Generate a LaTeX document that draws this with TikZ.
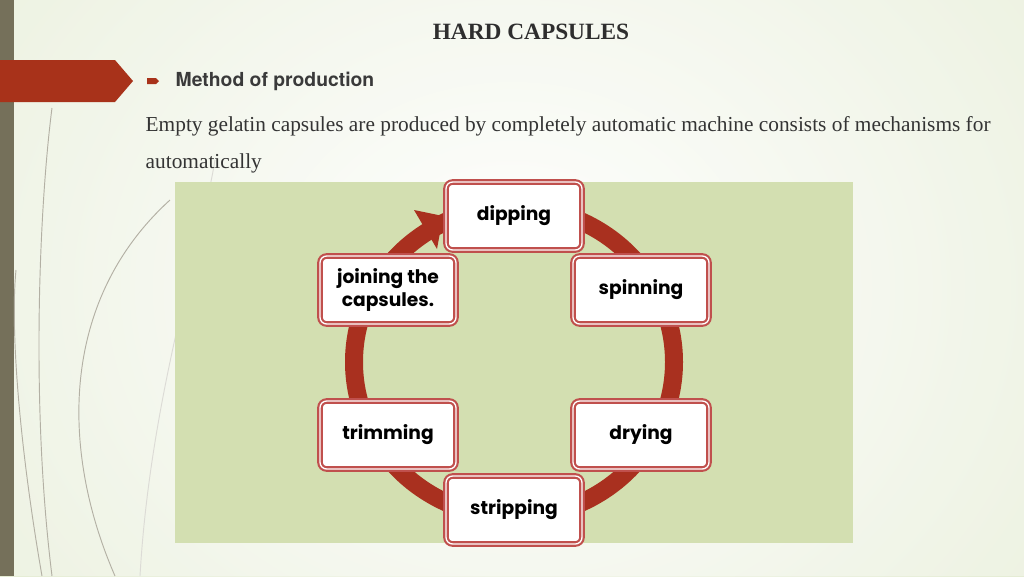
\documentclass[tikz,border=0pt]{standalone}
\usepackage{fontspec}
\setmainfont{Liberation Serif}
\newfontfamily\gfont{Poppins}
\newfontfamily\hfont{TeX Gyre Heros}
\definecolor{bgA}{HTML}{DCE6C6}
\definecolor{panel}{HTML}{D3DFB1}
\definecolor{ringc}{HTML}{A9301F}
\definecolor{boxc}{HTML}{C0504D}
\definecolor{barc}{HTML}{75705A}
\definecolor{bannerc}{HTML}{A8321A}
\definecolor{txt}{HTML}{3A3A3A}
\tikzset{
 stepbox/.style={draw=boxc, line width=1.6pt, double=white, double distance=1pt, fill=white, rounded corners=5pt, minimum width=102pt, minimum height=51pt, align=center, font=\gfont\fontsize{14}{17}\selectfont\bfseries, text=black},
 grass/.style={draw=barc!55, line width=0.7pt}
}
\begin{document}
\begin{tikzpicture}[x=0.75pt,y=-0.75pt]
\useasboundingbox (0,0) rectangle (1024,576);
\shade[inner color=white, outer color=bgA] (-300,-400) rectangle (1324,976);
\fill[white, opacity=0.35] (0,0) rectangle (1024,576);
\fill[barc] (0,0) rectangle (14,576);
\draw[grass] (52,576) .. controls (30,400) and (40,200) .. (52,108);
\draw[grass] (42,576) .. controls (20,450) and (10,330) .. (16,270);
\draw[grass] (115,576) .. controls (60,450) and (60,300) .. (170,200);
\draw[grass, draw=barc!25] (140,576) .. controls (150,400) and (200,250) .. (215,160);
\fill[bannerc] (0,60) -- (115,60) -- (133,81) -- (115,102) -- (0,102) -- cycle;
\fill[bannerc] (147,78) -- (156,78) -- (159,81) -- (156,84) -- (147,84) -- cycle;
\node[font=\bfseries\fontsize{17.5}{18}\selectfont, text=txt!80!black] (title) at (531,32) {HARD CAPSULES};
\node[anchor=west, font=\hfont\bfseries\fontsize{14.5}{15}\selectfont, text=txt] (method) at (171,81) {Method of production};
\node[anchor=west, font=\fontsize{16}{17}\selectfont, text=txt!90!black] (body1) at (141,126) {Empty gelatin capsules are produced by completely automatic machine consists of mechanisms for};
\node[anchor=west, font=\fontsize{16}{17}\selectfont, text=txt!90!black] (body2) at (141,163) {automatically};
\fill[panel] (175,182) rectangle (853,543);
\draw[ringc, line width=13.5pt] (514,362) ellipse [x radius=160, y radius=155];
\fill[ringc] (414,210) -- (443,216) -- (437,249) -- cycle;
\node[stepbox] (dip) at (514,216) {dipping};
\node[stepbox] (spin) at (641,290) {spinning};
\node[stepbox] (dry) at (641,435) {drying};
\node[stepbox] (strip) at (514,510) {stripping};
\node[stepbox] (trim) at (388,435) {trimming};
\node[stepbox] (join) at (388,290) {joining the\\capsules.};
\end{tikzpicture}
\end{document}
